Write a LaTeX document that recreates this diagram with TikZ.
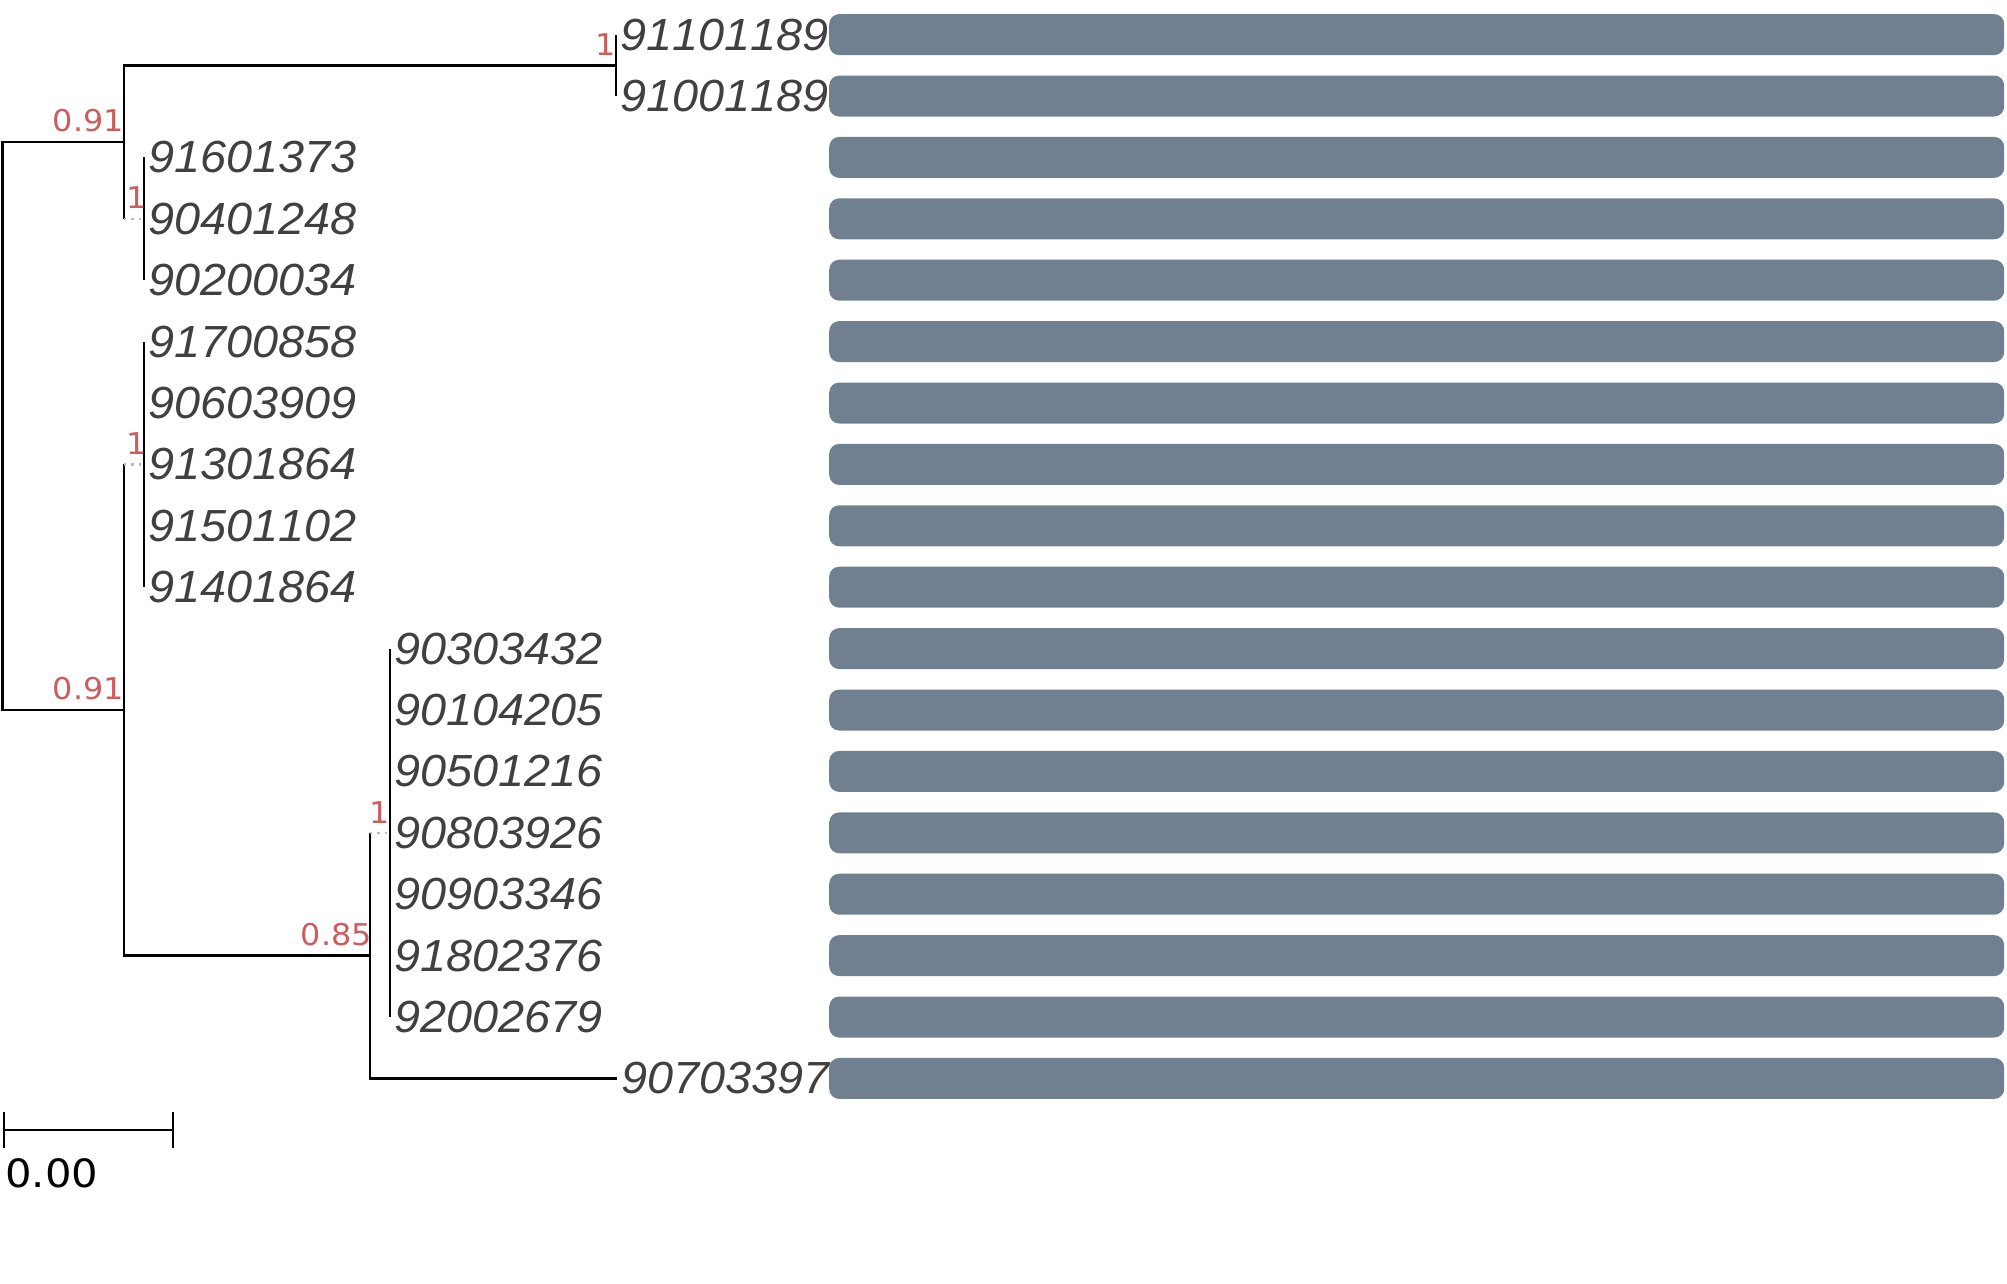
\documentclass[tikz,border=0pt]{standalone}
\usepackage{fontspec}
\setmainfont{Liberation Sans}[Kerning=Off]
\newfontfamily\djv{DejaVu Sans}
\definecolor{tiptext}{RGB}{64,64,64}
\definecolor{barcol}{RGB}{112,128,144}
\definecolor{bootcol}{RGB}{205,92,92}
\begin{document}
\begin{tikzpicture}[x=1pt,y=-1pt,
  branch/.style={line width=2.8pt, black},
  tipline/.style={line width=2.6pt, black},
  dotbranch/.style={line width=2.4pt, gray!55, dash pattern=on 2.4pt off 5pt},
  tiplab/.style={anchor=west, inner sep=0pt, font=\fontsize{45}{50}\selectfont\itshape, text=tiptext, xscale=1.04},
  bootlab/.style={anchor=south east, inner sep=0pt, font=\djv\fontsize{30}{34}\selectfont, text=bootcol, xscale=1.06},
  barbox/.style={fill=barcol, draw=none, rounded corners=10pt, anchor=west, minimum width=1175pt, minimum height=41pt, inner sep=0pt}]
\useasboundingbox (0,0) rectangle (2007,1283);

% tips, labels, bars
\foreach \tlab/\tx [count=\i from 0] in {91101189/616, 91001189/616, 91601373/144, 90401248/144, 90200034/144, 91700858/144, 90603909/144, 91301864/144, 91501102/144, 91401864/144, 90303432/390, 90104205/390, 90501216/390, 90803926/390, 90903346/390, 91802376/390, 92002679/390, 90703397/617} {
  \pgfmathsetmacro\yy{34.6+61.4*\i}
  \coordinate (t\i) at (\tx,\yy);
  \node[tiplab] (l\i) at ([xshift=4pt]t\i) {\tlab};
  \node[barbox] (b\i) at (829,\yy) {};
}

% internal nodes
\coordinate (root) at (2.5,426);
\coordinate (nA) at (124,142);
\coordinate (nC) at (124,710);
\coordinate (c1) at (616,65.3);
\coordinate (nB) at (145,218.8);
\coordinate (nD) at (145,464.4);
\coordinate (nE) at (370,955.6);
\coordinate (nF) at (390,832.8);

% branches
\draw[branch] (root) |- (nA);
\draw[branch] (root) |- (nC);
\draw[branch] (nA) |- (c1);
\draw[branch] (nA) -- (nA |- nB);
\draw[dotbranch] (nA |- nB) -- (nB);
\draw[branch] (nC) -- (nC |- nD);
\draw[dotbranch] (nC |- nD) -- (nD);
\draw[branch] (nC) |- (nE);
\draw[branch] (nE) -- (nE |- nF);
\draw[dotbranch] (nE |- nF) -- (nF);
\draw[branch] (nE) |- (t17);

% tip verticals
\draw[tipline] (t0) -- (t1);
\draw[tipline] (t2) -- (t4);
\draw[tipline] (t5) -- (t9);
\draw[tipline] (t10) -- (t16);

% support values
\node[bootlab] (sA) at ([yshift=10pt]nA) {0.91};
\node[bootlab] (s1) at ([yshift=10pt]c1) {1};
\node[bootlab] (sB) at ([yshift=10pt,xshift=2pt]nB) {1};
\node[bootlab] (sC) at ([yshift=10pt]nC) {0.91};
\node[bootlab] (sD) at ([yshift=10pt,xshift=2pt]nD) {1};
\node[bootlab] (sE) at ([yshift=9pt,xshift=2pt]nE) {0.85};
\node[bootlab] (sF) at ([yshift=9pt]nF) {1};

% scale bar
\coordinate (sb0) at (4,1130);
\coordinate (sb1) at (173,1130);
\draw[branch] (sb0) -- (sb1);
\draw[branch] ([yshift=-18pt]sb0) -- ([yshift=18pt]sb0);
\draw[branch] ([yshift=-18pt]sb1) -- ([yshift=18pt]sb1);
\node[anchor=north west, inner sep=0pt, font=\djv\fontsize{39}{44}\selectfont, xscale=1.07] (sbl) at (5,1158) {0.00};
\end{tikzpicture}
\end{document}
